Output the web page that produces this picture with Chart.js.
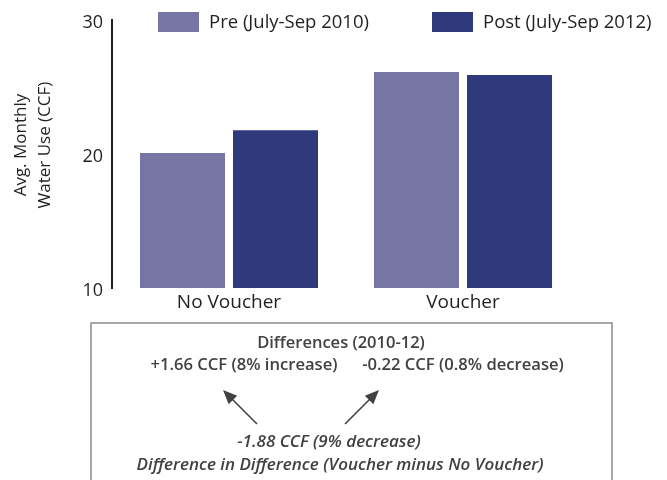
<!DOCTYPE html>
<html>
<head>
<meta charset="utf-8">
<script src="https://cdn.jsdelivr.net/npm/chart.js@4"></script>
<style>
  html, body { margin: 0; padding: 0; background: #fff; }
  #wrap { width: 667px; height: 480px; }
</style>
</head>
<body>
<div id="wrap"><canvas id="myChart" width="667" height="480"></canvas></div>
<script>
'use strict';

// data
var groups = ['No Voucher', 'Voucher'];
var preValues = [20.07, 26.10];
var postValues = [21.76, 25.88];
var seriesNames = ['Pre (July-Sep 2010)', 'Post (July-Sep 2012)'];
var yTicks = [10, 20, 30];

var diffTitle = 'Differences (2010-12)';
var diffNoVoucher = '+1.66 CCF (8% increase)';
var diffVoucher = '-0.22 CCF (0.8% decrease)';
var didValue = '-1.88 CCF (9% decrease)';
var didLabel = 'Difference in Difference (Voucher minus No Voucher)';

var preColor = '#7775a4';
var postColor = '#2e3a7c';
var textColor = '#231f20';
var noteColor = '#414042';
var fontName = "'Open Sans', sans-serif";

function arrow(ctx, x1, y1, x2, y2) {
  let ang = Math.atan2(y2 - y1, x2 - x1);
  ctx.beginPath();
  ctx.moveTo(x1, y1);
  ctx.lineTo(x2 - 6 * Math.cos(ang), y2 - 6 * Math.sin(ang));
  ctx.stroke();
  ctx.beginPath();
  ctx.moveTo(x2, y2);
  ctx.lineTo(x2 - 14 * Math.cos(ang) + 6 * Math.sin(ang), y2 - 14 * Math.sin(ang) - 6 * Math.cos(ang));
  ctx.lineTo(x2 - 14 * Math.cos(ang) - 6 * Math.sin(ang), y2 - 14 * Math.sin(ang) + 6 * Math.cos(ang));
  ctx.closePath();
  ctx.fill();
}

// legend sits inside the plot area, so it is drawn here
var legendPlugin = {
  id: 'insideLegend',
  afterDraw(chart) {
    let ctx = chart.ctx;
    let starts = [158, 432];
    ctx.save();
    ctx.font = '18.5px ' + fontName;
    ctx.textBaseline = 'middle';
    ctx.textAlign = 'left';
    chart.data.datasets.forEach((ds, i) => {
      ctx.fillStyle = ds.backgroundColor;
      ctx.fillRect(starts[i], 12, 41, 20);
      ctx.fillStyle = textColor;
      ctx.fillText(ds.label, starts[i] + 51, 23);
    });
    ctx.restore();
  }
};

var notePlugin = {
  id: 'diffBox',
  afterDraw(chart) {
    let ctx = chart.ctx;
    ctx.save();
    ctx.strokeStyle = '#8a8a8a';
    ctx.lineWidth = 1.5;
    ctx.strokeRect(91, 323, 521, 200);

    ctx.fillStyle = noteColor;
    ctx.textAlign = 'center';
    ctx.textBaseline = 'middle';
    ctx.font = '600 16.5px ' + fontName;
    ctx.fillText(diffTitle, 341, 343);
    ctx.font = '600 16.6px ' + fontName;
    ctx.fillText(diffNoVoucher, 244, 365);
    ctx.fillText(diffVoucher, 463, 365);
    ctx.font = 'italic 600 17px ' + fontName;
    ctx.fillText(didValue, 329, 442);
    ctx.fillText(didLabel, 340, 465);

    ctx.strokeStyle = noteColor;
    ctx.lineWidth = 1.6;
    arrow(ctx, 257, 424, 223, 390);
    arrow(ctx, 345, 424, 379, 390);
    ctx.restore();
  }
};

var ctx = document.getElementById('myChart');

new Chart(ctx, {
  type: 'bar',
  data: {
    labels: groups,
    datasets: [
      { label: seriesNames[0], data: preValues, backgroundColor: preColor },
      { label: seriesNames[1], data: postValues, backgroundColor: postColor }
    ]
  },
  options: {
    responsive: false,
    animation: false,
    devicePixelRatio: 1,
    layout: { padding: { top: 16, right: 87, left: 0, bottom: 0 } },
    categoryPercentage: 0.795,
    barPercentage: 0.914,
    plugins: {
      legend: { display: false },
      tooltip: { enabled: false }
    },
    scales: {
      x: {
        grid: { display: false, drawTicks: false },
        border: { display: false },
        ticks: { color: textColor, font: { family: fontName, size: 19 }, padding: 3 },
        afterFit: function (scale) { scale.height = 192; }
      },
      y: {
        min: 10,
        max: 30,
        afterBuildTicks: function (scale) {
          scale.ticks = yTicks.map(v => ({ value: v }));
        },
        grid: { display: false, drawTicks: false },
        border: { display: true, color: textColor, width: 2 },
        ticks: { color: textColor, font: { family: fontName, size: 18 }, padding: 9, labelOffset: 3 },
        title: {
          display: true,
          text: ['    Avg. Monthly', '    Water Use (CCF)'],
          color: textColor,
          font: { family: fontName, size: 17, lineHeight: 1.4 },
          padding: { top: 9, bottom: 0 }
        },
        afterFit: function (scale) { scale.width = 112; }
      }
    }
  },
  plugins: [legendPlugin, notePlugin]
});
</script>
</body>
</html>
